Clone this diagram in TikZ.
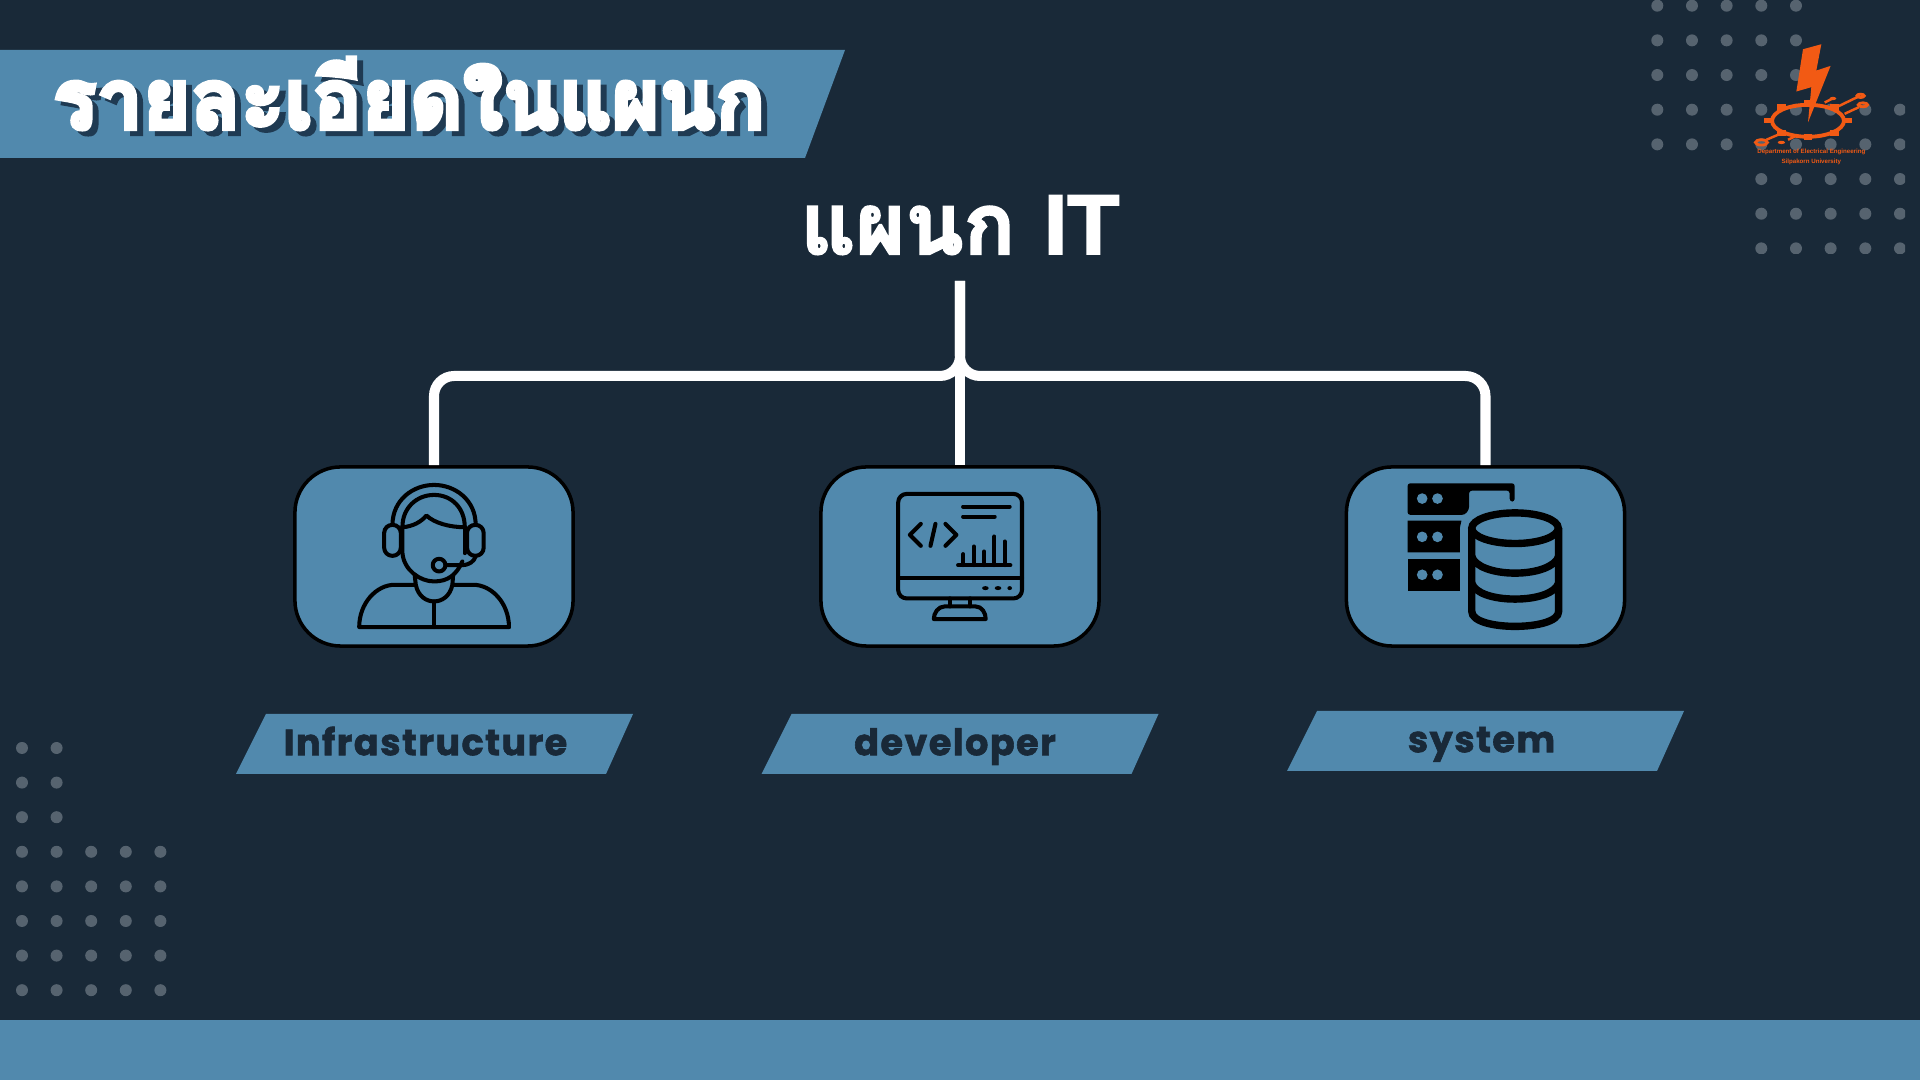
\documentclass[tikz,border=0pt]{standalone}
\usepackage{fontspec}
\newfontfamily\thaifont[Script=Thai,BoldFeatures={FakeBold=2.5}]{Loma}
\newfontfamily\thaiheavy[Script=Thai,BoldFeatures={FakeBold=5}]{Loma}
\newfontfamily\headfont[FakeBold=2]{Liberation Sans Bold}
\newfontfamily\tagfont[FakeBold=1.6,LetterSpace=4]{Poppins Bold}
\newfontfamily\logofont{Liberation Sans}
\definecolor{bgdark}{HTML}{192938}
\definecolor{panelblue}{HTML}{5189AD}
\definecolor{shadowblue}{HTML}{1F3A52}
\definecolor{dotgrey}{HTML}{56636F}
\definecolor{logoorange}{HTML}{F25A14}
\tikzset{
  unitbox/.style={shape=rectangle, draw=black, line width=1pt, fill=panelblue, rounded corners=13pt,
    minimum width=2.78cm, minimum height=1.79cm},
  tagtext/.style={text=bgdark, font=\tagfont\fontsize{10.4}{12}\selectfont,
    text height=9pt, text depth=2.6pt, inner sep=0pt},
  titletext/.style={font=\thaiheavy\bfseries\fontsize{24}{28}\selectfont},
  link/.style={draw=white, line width=2.85pt, rounded corners=5.7pt},
  iconline/.style={draw=black, line width=1.15pt, line cap=round, line join=round},
  iconscale/.style={x=0.003333cm, y=-0.003333cm},
  dot/.style={fill=dotgrey},
}
\begin{document}
\begin{tikzpicture}[x=0.01cm, y=-0.01cm]
    \useasboundingbox (0, 0) rectangle (1920, 1080);
    \fill [bgdark] (0, 0) rectangle (1920, 1080);
    \fill [panelblue] (0, 1020) rectangle (1920, 1080);

    % dots
    \begin{scope}
      \clip (1600, 0) rectangle (1905, 254);
      \foreach \r in {0, 1, 2}
        \foreach \c in {0, ..., 4}
          \fill [dot] (1657.3 + 34.67 * \c, 5.7 + 34.67 * \r) circle (6);
      \foreach \r in {3, 4}
        \foreach \c in {0, ..., 7}
          \fill [dot] (1657.3 + 34.67 * \c, 5.7 + 34.67 * \r) circle (6);
      \foreach \r in {5, 6, 7}
        \foreach \c in {3, ..., 7}
          \fill [dot] (1657.3 + 34.67 * \c, 5.7 + 34.67 * \r) circle (6);
    \end{scope}
    \foreach \r in {0, 1, 2}
      \foreach \c in {0, 1}
        \fill [dot] (22 + 34.6 * \c, 748 + 34.6 * \r) circle (6);
    \foreach \r in {3, ..., 7}
      \foreach \c in {0, ..., 4}
        \fill [dot] (22 + 34.6 * \c, 748 + 34.6 * \r) circle (6);

    % banner
    \fill [panelblue] (0, 50) -- (845, 50) -- (805, 158) -- (0, 158) -- cycle;
    \node [text=shadowblue, titletext] (titleshadow) at (415, 98.5) {\scalebox{0.97}[1]{รายละเอียดในแผนก}};
    \node [text=white, titletext] (title) at (409, 93.5) {\scalebox{0.97}[1]{รายละเอียดในแผนก}};

    % logo
    \begin{scope}[shift={(1600, 0)}, iconscale]
      \draw [logoorange, line width=1.1pt] (625, 363) ellipse (108 and 48);
      \foreach \x/\y in {507/362, 745/362, 545/322, 705/322, 545/400, 705/400, 625/412, 625/310}
        \fill [logoorange] (\x - 13, \y - 8) rectangle (\x + 13, \y + 8);
      \fill [logoorange] (610, 148) -- (665, 133) -- (650, 212) -- (693, 198) -- (625, 368) -- (635, 262) -- (590, 275) -- cycle;
      \draw [logoorange, line width=0.7pt] (500, 420) -- (535, 405) (565, 420) -- (585, 410) (675, 308) -- (695, 298) (715, 320) -- (773, 292) (735, 342) -- (778, 322);
      \draw [logoorange, line width=0.8pt] (485, 428) ellipse (18 and 8) (783, 288) ellipse (11 and 5) (790, 315) ellipse (14 and 6);
      \fill [logoorange] (545, 428) ellipse (11 and 5) (700, 296) ellipse (10 and 5);
      \node [text=logoorange, font=\logofont\bfseries\fontsize{1.75}{2}\selectfont, inner sep=0pt] (logoline) at (635, 458) {Department of Electrical Engineering};
      \node [text=logoorange, font=\logofont\bfseries\fontsize{1.75}{2}\selectfont, inner sep=0pt] (logouni) at (635, 488) {Silpakorn University};
    \end{scope}

    % tree
    \node [text=white, font=\thaifont\bfseries\fontsize{24.2}{28}\selectfont] (itdept) at (960, 225) {แผนก {\headfont IT}};
    \node [unitbox] (infra) at (434, 556.5) {};
    \node [unitbox] (dev) at (960, 556.5) {};
    \node [unitbox] (sys) at (1485.5, 556.5) {};
    \coordinate (stem) at (960, 281);
    \coordinate (fork) at (960, 376);
    \draw [link] (stem) -- (fork) -| (infra.north);
    \draw [link] (stem) -- (fork) -| (sys.north);
    \draw [link, rounded corners=0pt] (stem) -- (dev.north);

    % tags
    \foreach \x/\y in {434.5/744, 960/744, 1485.5/741}
      \fill [panelblue] (\x - 198.5, \y + 30) -- (\x - 168.5, \y - 30) -- (\x + 198.5, \y - 30) -- (\x + 171.5, \y + 30) -- cycle;
    \node [tagtext] (infratag) at (425.5, 744) {Infrastructure};
    \node [tagtext] (devtag) at (955, 744) {developer};
    \node [tagtext] (systag) at (1481.5, 741) {system};

    % headset
    \begin{scope}[shift={(280, 450)}, iconscale, iconline]
      \draw (238, 532) -- (688, 532) (238, 532) .. controls (238, 460) and (290, 405) .. (345, 405) -- (405, 405);
      \draw (688, 532) .. controls (688, 460) and (636, 405) .. (580, 405) -- (520, 405);
      \draw (463, 455) -- (463, 532);
      \draw (405, 378) -- (408, 405) .. controls (415, 440) and (440, 455) .. (463, 455) .. controls (486, 455) and (511, 440) .. (518, 405) -- (520, 378);
      \draw (368, 230) -- (368, 310) .. controls (372, 360) and (420, 395) .. (463, 395) .. controls (505, 395) and (530, 375) .. (548, 335);
      \draw (555, 230) -- (555, 310);
      \draw (368, 232) .. controls (400, 230) and (425, 215) .. (440, 197) .. controls (465, 220) and (510, 232) .. (555, 232);
      \draw (338, 225) .. controls (338, 150) and (400, 105) .. (463, 105) .. controls (526, 105) and (588, 150) .. (588, 225);
      \draw (368, 230) .. controls (368, 175) and (410, 135) .. (463, 135) .. controls (516, 135) and (555, 175) .. (555, 230);
      \draw [rounded corners=2.3pt] (313, 225) rectangle (363, 318);
      \draw [rounded corners=2.3pt] (562, 225) rectangle (612, 318);
      \draw (478, 346) circle (19);
      \draw (498, 346) -- (548, 346) .. controls (570, 345) and (582, 335) .. (588, 320);
    \end{scope}

    % monitor
    \begin{scope}[shift={(810, 450)}, iconscale, iconline]
      \draw [rounded corners=2.4pt] (265, 132) rectangle (637, 446);
      \draw (265, 385) -- (637, 385);
      \fill (527, 415) ellipse (10 and 6) (565, 415) ellipse (10 and 6) (600, 415) ellipse (7 and 6);
      \draw (420, 446) -- (420, 470) (482, 446) -- (482, 470);
      \draw (372, 508) .. controls (372, 490) and (385, 470) .. (405, 470) -- (497, 470) .. controls (517, 470) and (528, 490) .. (528, 508) -- cycle;
      \draw (460, 170) -- (600, 170) (460, 200) -- (555, 200);
      \draw (333, 222) -- (300, 255) -- (333, 288) (407, 222) -- (440, 255) -- (407, 288) (377, 222) -- (362, 288);
      \draw (445, 346) -- (602, 346);
      \foreach \x/\y in {461/313, 492/290, 523/305, 554/260, 585/275}
        \draw (\x, 346) -- (\x, \y);
    \end{scope}

    % database
    \begin{scope}[shift={(1330, 450)}, iconscale]
      \fill [black, rounded corners=0.8pt] (233, 195) -- (233, 100) -- (555, 100) -- (555, 155) -- (540, 155) -- (540, 122) -- (418, 122) -- (418, 178) -- (405, 195) -- cycle;
      \fill [black] (233, 212) -- (395, 212) -- (390, 235) -- (390, 308) -- (233, 308) -- cycle;
      \fill [black] (233, 327) rectangle (390, 423);
      \foreach \y in {146, 261, 375}
        \foreach \x in {277, 323}
          \fill [panelblue] (\x, \y) circle (16);
      \draw [black, line width=2.1pt] (556, 235) ellipse (130 and 46);
      \draw [black, line width=2.1pt] (426, 235) -- (426, 485) .. controls (426, 515) and (490, 530) .. (556, 530) .. controls (622, 530) and (687, 515) .. (687, 485) -- (687, 235);
      \draw [black, line width=2.1pt] (426, 320) .. controls (435, 350) and (490, 370) .. (556, 370) .. controls (622, 370) and (677, 350) .. (687, 320);
      \draw [black, line width=2.1pt] (426, 400) .. controls (435, 430) and (490, 448) .. (556, 448) .. controls (622, 448) and (677, 430) .. (687, 400);
    \end{scope}
\end{tikzpicture}
\end{document}
